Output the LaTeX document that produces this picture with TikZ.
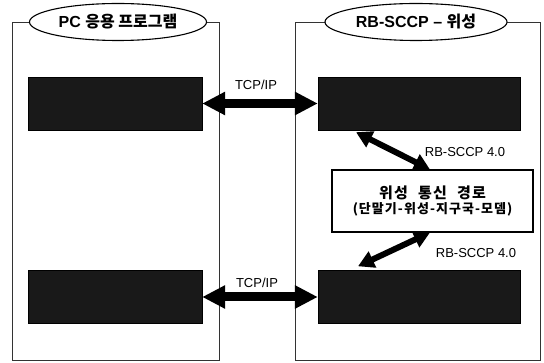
\documentclass[tikz,border=0pt]{standalone}
\usepackage{fontspec}
\setmainfont{Liberation Sans}
\newfontfamily\kr{Noto Sans CJK KR}
\newfontfamily\krwide{Noto Sans CJK KR}[LetterSpace=8,WordSpace=2.2]
\usetikzlibrary{arrows.meta,positioning,shapes.geometric}

\begin{document}
\begin{tikzpicture}[
    x=1pt, y=-1pt,
    panel/.style={draw=black!80, line width=0.8pt},
    title/.style={draw, ellipse, fill=white, line width=1.1pt, inner sep=0pt, minimum height=37pt, font=\bfseries\fontsize{16}{18}\selectfont},
    darkbox/.style={fill=black!90, draw=black, minimum width=#1, minimum height=53pt, inner sep=0pt},
    pathbox/.style={draw, fill=white, line width=1.1pt, align=center, minimum width=201pt, minimum height=62pt, inner sep=0pt},
    tcplink/.style={{Triangle[length=23pt,width=22pt]}-{Triangle[length=23pt,width=22pt]}, line width=9pt},
    satlink/.style={{Triangle[length=16pt,width=17pt]}-{Triangle[length=16pt,width=17pt]}, line width=6pt},
    lbl/.style={font=\fontsize{13}{15}\selectfont}
]
\useasboundingbox (0,0) rectangle (544,363);
% two sides
\draw[panel] (12,22) rectangle (219,360);
\draw[panel] (295,22) rectangle (540,360);
\node[title, minimum width=177pt] (pctitle) at (118,22) {PC {\kr 응용 프로그램}};
\node[title, minimum width=182pt] (sattitle) at (416,22) {RB-SCCP -- {\kr 위성}};
% application boxes
\node[darkbox=174pt] (tl) at (115,103.5) {};
\node[darkbox=202pt] (tr) at (419,103.5) {};
\node[darkbox=174pt] (bl) at (115,297) {};
\node[darkbox=202pt] (br) at (419,297) {};
% satellite path
\node[pathbox] (path) at (432.5,201) {{\krwide\bfseries\fontsize{15}{18}\selectfont 위성 통신 경로}\\[1pt]{\krwide\bfseries\fontsize{13}{15}\selectfont (단말기-위성-지구국-모뎀)}};
% links
\draw[tcplink] (tl.east) -- (tr.west);
\draw[tcplink] (bl.east) -- (br.west);
\node[lbl] (tcptop) at (256,85) {TCP/IP};
\node[lbl] (tcpbot) at (257,283) {TCP/IP};
\draw[satlink] ([xshift=-63pt,yshift=-2pt]tr.south) -- ([xshift=-2.5pt]path.north);
\draw[satlink] ([xshift=-2.5pt]path.south) -- ([xshift=-61pt,yshift=4pt]br.north);
\node[lbl] (sccptop) at (465,152) {RB-SCCP 4.0};
\node[lbl] (sccpbot) at (476,253) {RB-SCCP 4.0};
\end{tikzpicture}
\end{document}
